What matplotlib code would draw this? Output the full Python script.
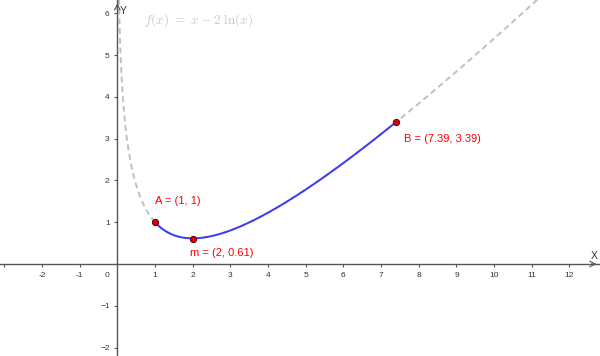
import numpy as np
import matplotlib
matplotlib.use("Agg")
import matplotlib.pyplot as plt

plt.rcParams['mathtext.fontset'] = 'cm'

# f(x) = x - 2 ln(x), highlighted between A and B
x_A, x_B = 1.0, 7.39
pt_names = ['A', 'm', 'B']
pt_x = [1, 2, 7.39]
pt_y = [1, 0.61, 3.39]
pt_labels = ["A = (1, 1)", "m = (2, 0.61)", "B = (7.39, 3.39)"]
xticks = [-3, -2, -1, 1, 2, 3, 4, 5, 6, 7, 8, 9, 10, 11, 12]
yticks = [-2, -1, 1, 2, 3, 4, 5, 6]

xmin, xmax = -3.114, 12.81
ymin, ymax = -2.201, 6.316

def f(x):
    return x - 2 * np.log(x)

fig = plt.figure(figsize=(6, 3.56), dpi=100)
ax = fig.add_axes([0, 0, 1, 1])
ax.set_xlim(xmin, xmax)
ax.set_ylim(ymin, ymax)

axcol = '#555555'
for s in ['top', 'right']:
    ax.spines[s].set_visible(False)
for s in ['left', 'bottom']:
    ax.spines[s].set_position(('data', 0))
    ax.spines[s].set_color(axcol)
    ax.spines[s].set_linewidth(1.0)

ax.set_xticks(xticks)
ax.set_yticks(yticks)
ax.set_xticklabels([str(t) if t > -3 else '' for t in xticks])
ax.tick_params(direction='out', length=2.5, width=0.8, color=axcol,
               labelsize=6, labelcolor='#333333', pad=3)
for lab in ax.get_xticklabels() + ax.get_yticklabels():
    lab.set_family('Liberation Sans')
ax.text(-0.2, -0.2, "0", fontsize=6, color='#333333', family='Liberation Sans',
        ha='right', va='top')

# axis arrows
ax.annotate('', xy=(xmax - 0.02, 0), xytext=(xmax - 0.3, 0),
            arrowprops=dict(arrowstyle='->', color=axcol, lw=0.8))
ax.annotate('', xy=(0, ymax - 0.01), xytext=(0, ymax - 0.3),
            arrowprops=dict(arrowstyle='->', color=axcol, lw=0.8))
ax.text(12.65, 0.2, "X", fontsize=7.5, color='#333333', family='Liberation Sans',
        ha='center', va='center')
ax.text(0.15, 6.05, "Y", fontsize=7.5, color='#333333', family='Liberation Sans',
        ha='center', va='center')

# full function dashed gray
xs = np.linspace(0.03, xmax, 1500)
ax.plot(xs, f(xs), color='#c0c0c0', lw=1.4, ls=(0, (3, 2)), zorder=2)
# highlighted part
xh = np.linspace(x_A, x_B, 500)
ax.plot(xh, f(xh), color='#3c3cf5', lw=1.4, zorder=3)

ax.plot(pt_x, pt_y, 'o', ms=4.5, mfc='#e00000', mec='#500000', mew=0.7, zorder=4)
offsets = [(0.0, 0.51), (-0.07, -0.35), (0.22, -0.40)]
for px, py, lab, (dx, dy) in zip(pt_x, pt_y, pt_labels, offsets):
    ax.text(px + dx, py + dy, lab, fontsize=8, color='#ff0000',
            family='Liberation Sans', ha='left', va='center')

ax.text(0.7, 5.83, r"$f(x)\ =\ x - 2\ \ln(x)$", fontsize=9.5, color='#c8c8c8',
        ha='left', va='center')

fig.savefig("out.png", dpi=100)
